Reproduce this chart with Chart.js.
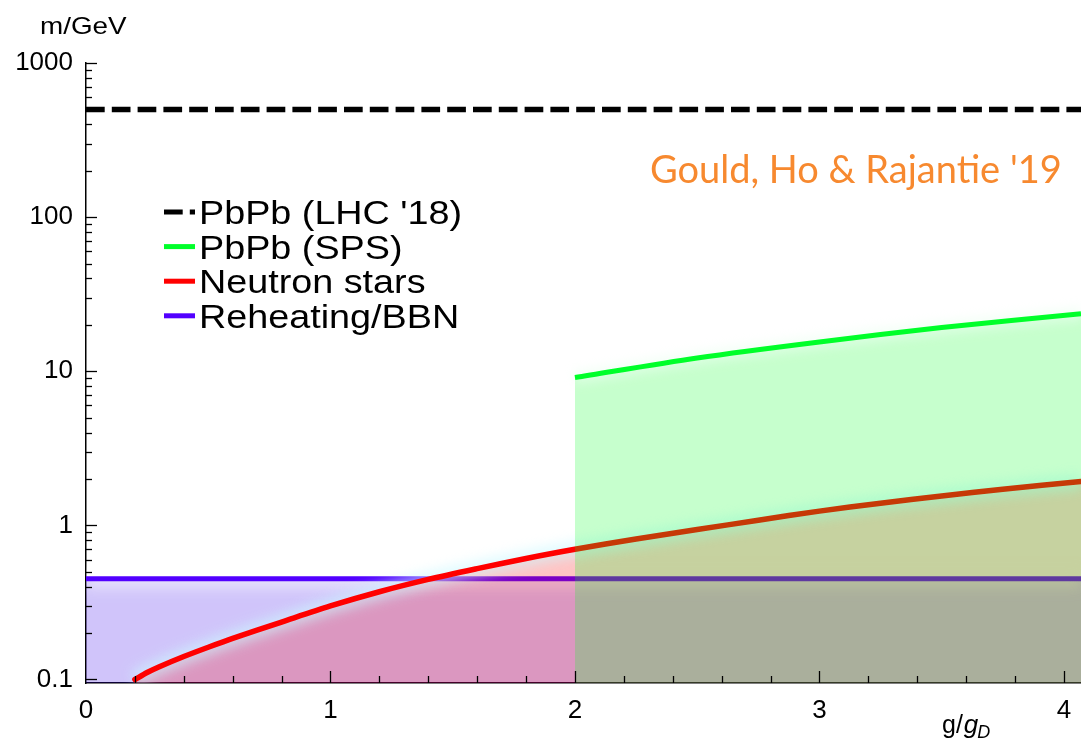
<!DOCTYPE html>
<html>
<head>
<meta charset="utf-8">
<script src="https://cdn.jsdelivr.net/npm/chart.js@4.4.1/dist/chart.umd.min.js"></script>
<style>
  html, body { margin: 0; padding: 0; background: #fff; }
  canvas { display: block; }
</style>
</head>
<body>
<canvas id="c" width="1081" height="743"></canvas>
<script>
// Axis ticks
const xTickValues = [0, 1, 2, 3, 4];
const xTickLabels = ['0', '1', '2', '3', '4'];
const yTickValues = [0.1, 1, 10, 100, 1000];
const yTickLabels = ['0.1', '1', '10', '100', '1000'];

// Series names
const seriesLabels = ["PbPb (LHC '18)", 'PbPb (SPS)', 'Neutron stars', 'Reheating/BBN'];

// Lower mass bounds (GeV) against g/g_D
const lhcG = [0, 4.07];
const lhcMass = [500, 500];

const spsG = [2.0, 2.5, 3.0, 3.5, 4.07];
const spsMass = [9.1, 12.2, 15.5, 19.2, 23.6];

const nsG = [0.2, 0.25, 0.3, 0.4, 0.5, 0.6, 0.8, 1.0, 1.2, 1.4, 1.6, 1.8, 2.0, 2.25, 2.5, 2.75, 3.0, 3.25, 3.5, 3.75, 4.07];
const nsMass = [0.100, 0.111, 0.121, 0.141, 0.162, 0.185, 0.236, 0.300, 0.371, 0.446, 0.524, 0.610, 0.700, 0.815, 0.939, 1.081, 1.237, 1.393, 1.549, 1.718, 1.925];

const bbnG = [0, 4.07];
const bbnMass = [0.45, 0.45];

const citation = "Gould, Ho & Rajantie '19";

const pts = (xs, ys) => xs.map((x, i) => ({ x: x, y: ys[i] }));
const FONT = "'Liberation Sans', Arial, Helvetica, sans-serif";

// soft light halo laid along each bound, over its shaded region
const halo = [
  null,
  { color: 'rgba(235,255,240,0.55)', width: 14, blur: 5 },
  { color: 'rgba(205,248,255,0.6)', width: 16, blur: 6 },
  { color: 'rgba(255,255,255,0.5)', width: 18, blur: 7 }
];

function stretchedText(ctx, text, x, y, sx) {
  ctx.save();
  ctx.translate(x, y);
  ctx.scale(sx, 1);
  ctx.fillText(text, 0, 0);
  ctx.restore();
}

const glow = {
  id: 'glow',
  beforeDatasetDraw(chart, args) {
    const h = halo[args.index];
    if (!h) return;
    const ctx = chart.ctx;
    const a = chart.chartArea;
    ctx.save();
    ctx.beginPath();
    ctx.rect(a.left, a.top, a.right - a.left, a.bottom - a.top);
    ctx.clip();
    ctx.filter = 'blur(' + h.blur + 'px)';
    ctx.strokeStyle = h.color;
    ctx.lineWidth = h.width;
    ctx.beginPath();
    args.meta.dataset.path(ctx);
    ctx.stroke();
    ctx.restore();
  }
};

// Inward ticks, axis titles, inset legend and citation
const decor = {
  id: 'decor',
  afterDraw(chart) {
    const ctx = chart.ctx;
    const a = chart.chartArea;
    const xs = chart.scales.x, ys = chart.scales.y;
    ctx.save();
    ctx.strokeStyle = '#000';
    ctx.lineWidth = 1.3;
    const seg = (x1, y1, x2, y2) => { ctx.beginPath(); ctx.moveTo(x1, y1); ctx.lineTo(x2, y2); ctx.stroke(); };

    for (let e = -1; e <= 3; e++) {
      for (let k = 1; k <= 9; k++) {
        const v = k * Math.pow(10, e);
        if (v > ys.max * 1.0001 || v < ys.min) continue;
        const py = Math.round(ys.getPixelForValue(v)) + 0.5;
        seg(a.left, py, a.left + (k === 1 ? 11 : 6), py);
      }
    }
    for (let i = 1; i <= 25; i++) {
      const v = i * 0.2;
      if (v > xs.max) break;
      const px = Math.round(xs.getPixelForValue(v)) + 0.5;
      seg(px, a.bottom, px, a.bottom - (i % 5 === 0 ? 12 : 7));
    }

    // axis titles
    ctx.fillStyle = '#000';
    ctx.textBaseline = 'alphabetic';
    ctx.textAlign = 'left';
    ctx.font = '24px ' + FONT;
    stretchedText(ctx, 'm/GeV', 40, 34, 1.16);
    let x = 942;
    ctx.font = '25px ' + FONT;
    ctx.fillText('g/', x, 733);
    x += ctx.measureText('g/').width + 1;
    ctx.font = 'italic 26px ' + FONT;
    ctx.fillText('g', x, 733);
    x += ctx.measureText('g').width - 1;
    ctx.font = 'italic 18px ' + FONT;
    ctx.fillText('D', x, 738);

    // legend
    const lx0 = 164, lx1 = 195, tx = 199, row0 = 212, rowStep = 34.6;
    chart.data.datasets.forEach((ds, i) => {
      const y = row0 + i * rowStep;
      ctx.save();
      ctx.strokeStyle = ds.borderColor;
      ctx.lineWidth = 5;
      ctx.setLineDash(ds.borderDash || []);
      ctx.beginPath();
      ctx.moveTo(lx0, y);
      ctx.lineTo(lx1, y);
      ctx.stroke();
      ctx.restore();
      ctx.fillStyle = '#000';
      ctx.font = '34px ' + FONT;
      stretchedText(ctx, ds.label, tx, y + 12, 1.11);
    });

    // citation
    ctx.fillStyle = '#f7892f';
    ctx.font = "38px Lato, 'Open Sans', sans-serif";
    ctx.fillText(citation, 650, 183);
    ctx.restore();
  }
};

new Chart(document.getElementById('c'), {
  type: 'line',
  data: {
    datasets: [
      {
        label: seriesLabels[0],
        data: pts(lhcG, lhcMass),
        borderColor: '#000000',
        borderWidth: 5.5,
        borderDash: [18.7, 7.1],
        borderCapStyle: 'butt',
        fill: false,
        pointRadius: 0
      },
      {
        label: seriesLabels[1],
        data: pts(spsG, spsMass),
        borderColor: '#00ff2a',
        backgroundColor: 'rgba(0,255,30,0.224)',
        borderWidth: 5,
        fill: 'start',
        tension: 0.3,
        pointRadius: 0
      },
      {
        label: seriesLabels[2],
        data: pts(nsG, nsMass),
        borderColor: '#ff0000',
        backgroundColor: 'rgba(255,0,0,0.23)',
        borderWidth: 5.5,
        borderCapStyle: 'round',
        fill: 'start',
        tension: 0.3,
        pointRadius: 0
      },
      {
        label: seriesLabels[3],
        data: pts(bbnG, bbnMass),
        borderColor: '#5200ff',
        backgroundColor: 'rgba(50,0,235,0.23)',
        borderWidth: 5,
        fill: 'start',
        pointRadius: 0
      }
    ]
  },
  options: {
    responsive: false,
    animation: false,
    devicePixelRatio: 1,
    layout: { padding: { top: 63, left: 0, right: 0, bottom: 0 } },
    plugins: { legend: { display: false }, tooltip: { enabled: false } },
    scales: {
      x: {
        type: 'linear',
        min: 0,
        max: 4.07,
        z: 1,
        grid: { display: false, drawTicks: false },
        border: { display: true, color: '#000', width: 1.5 },
        ticks: {
          autoSkip: false,
          maxRotation: 0,
          color: '#000',
          padding: 12,
          font: { family: FONT, size: 26 },
          callback: (v) => { const i = xTickValues.indexOf(v); return i >= 0 ? xTickLabels[i] : ''; }
        },
        afterBuildTicks: (s) => { s.ticks = xTickValues.map(v => ({ value: v })); },
        afterFit: (s) => { s.height = 60; s.paddingLeft = 0; s.paddingRight = 0; }
      },
      y: {
        type: 'logarithmic',
        min: 0.0949,
        max: 1000,
        z: 1,
        grid: { display: false, drawTicks: false },
        border: { display: true, color: '#000', width: 1.5 },
        ticks: {
          autoSkip: false,
          color: '#000',
          padding: 13,
          font: { family: FONT, size: 26 },
          callback: (v) => { const i = yTickValues.indexOf(v); return i >= 0 ? yTickLabels[i] : ''; }
        },
        afterBuildTicks: (s) => { s.ticks = yTickValues.map(v => ({ value: v })); },
        afterFit: (s) => { s.width = 86; s.paddingTop = 0; s.paddingBottom = 0; }
      }
    }
  },
  plugins: [glow, decor]
});
</script>
</body>
</html>
